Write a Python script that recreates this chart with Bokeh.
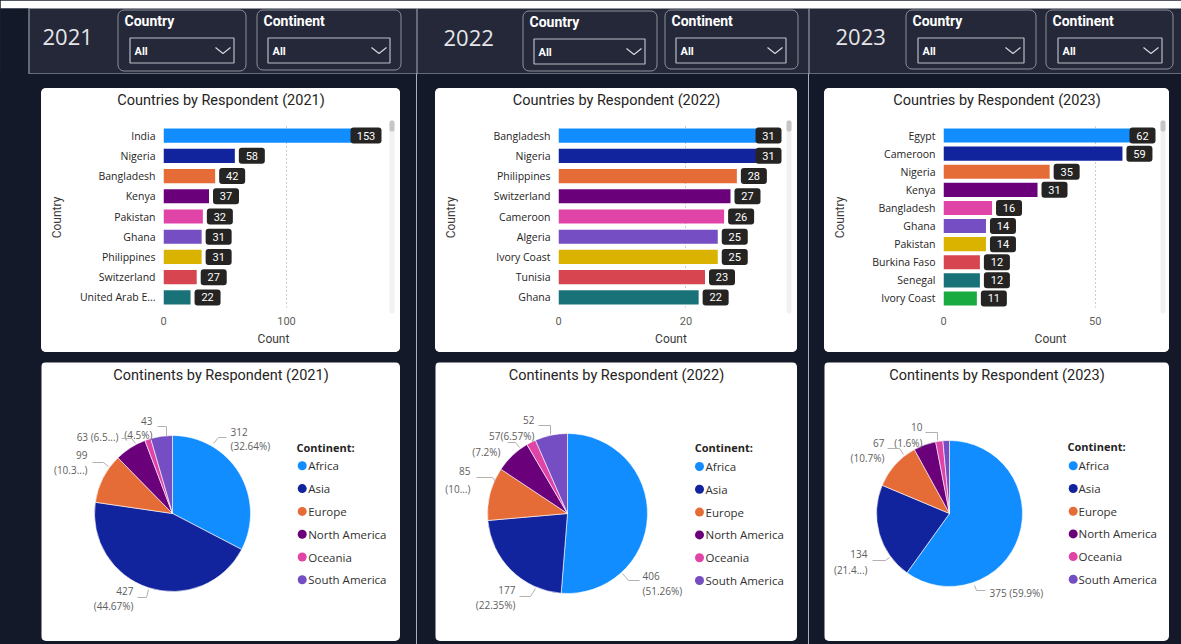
import math
from bokeh.plotting import figure
from bokeh.layouts import row, column
from bokeh.models import (Range1d, FactorRange, FixedTicker, ColumnDataSource,
                          Spacer, Rect, Quad, Plot)
from bokeh.core.properties import value
from bokeh.embed import file_html
from bokeh.resources import INLINE

# ---------------- data ----------------
years = ["2021", "2022", "2023"]

countries_2021 = ["India", "Nigeria", "Bangladesh", "Kenya", "Pakistan", "Ghana",
                  "Philippines", "Switzerland", "United Arab Emirates"]
counts_2021 = [153, 58, 42, 37, 32, 31, 31, 27, 22]

countries_2022 = ["Bangladesh", "Nigeria", "Philippines", "Switzerland", "Cameroon",
                  "Algeria", "Ivory Coast", "Tunisia", "Ghana"]
counts_2022 = [31, 31, 28, 27, 26, 25, 25, 23, 22]

countries_2023 = ["Egypt", "Cameroon", "Nigeria", "Kenya", "Bangladesh", "Ghana",
                  "Pakistan", "Burkina Faso", "Senegal", "Ivory Coast"]
counts_2023 = [62, 59, 35, 31, 16, 14, 14, 12, 12, 11]

x_ticks_2021 = [0, 100]
x_ticks_2022 = [0, 20]
x_ticks_2023 = [0, 50]

continents = ["Africa", "Asia", "Europe", "North America", "Oceania", "South America"]
continent_counts_2021 = [312, 427, 99, 63, 12, 43]
continent_counts_2022 = [406, 177, 85, 57, 15, 52]
continent_counts_2023 = [375, 134, 67, 31, 10, 9]

slicer_titles = ["Country", "Continent"]
slicer_value = "All"

BAR_DATA = {"2021": (countries_2021, counts_2021, x_ticks_2021),
            "2022": (countries_2022, counts_2022, x_ticks_2022),
            "2023": (countries_2023, counts_2023, x_ticks_2023)}
PIE_DATA = {"2021": continent_counts_2021, "2022": continent_counts_2022,
            "2023": continent_counts_2023}

# ---------------- styles / layout ----------------
PALETTE = ["#118DFF", "#12239E", "#E66C37", "#6B007B", "#E044A7", "#744EC2",
           "#D9B300", "#D64550", "#197278", "#1AAB40"]
BG = "#131929"
HEADER_BG = "#242839"
SEP = "#a9aeb8"
SLICER_LINE = "#8c919c"
DROP_LINE = "#b9bdc6"
TXT_DARK = "#252423"
TXT_GRAY = "#605E5C"
LABEL_BG = "#252423"
TITLE_FONT = "Roboto"
BODY_FONT = "Open Sans"

W_TOTAL, H_TOTAL = 1181, 644
HEADER_H = 74
BAR_BOTTOM = 352


def has_prop(cls, name):
    try:
        return name in cls.properties()
    except Exception:
        return False


QUAD_R = has_prop(Quad, "border_radius")
RECT_R = has_prop(Rect, "border_radius")
FA = dict(frame_align=False) if has_prop(Plot, "frame_align") else {}

COLS = {"2021": (0, 416), "2022": (417, 391), "2023": (809, 372)}
SEPS = [416, 808]

HDR = {
    "2021": dict(year_x=42, year_y=36,
                 boxes=[(117, 245, 9, 70), (256, 400, 9, 69)],
                 drops=[(129, 233, 37, 62), (267, 389, 37, 62)]),
    "2022": dict(year_x=443, year_y=37,
                 boxes=[(522, 656, 10, 70), (664, 797, 9, 68)],
                 drops=[(533, 644, 38, 63), (675, 785, 37, 62)]),
    "2023": dict(year_x=835, year_y=36,
                 boxes=[(905, 1035, 9, 68), (1045, 1172, 9, 68)],
                 drops=[(917, 1023, 37, 62), (1057, 1161, 37, 62)]),
}

BAR_CFG = {
    "2021": dict(card=(41, 88, 359, 264), frame=(163, 383, 125, 307), ppu=1.23,
                 sb=(389, 394), bar_h=0.7),
    "2022": dict(card=(435, 88, 362, 264), frame=(558, 783, 125, 307), ppu=6.37,
                 sb=(786, 791), bar_h=0.7),
    "2023": dict(card=(824, 88, 345, 264), frame=(943, 1157, 126, 307), ppu=3.033,
                 sb=(1160, 1165), bar_h=0.78),
}
COUNTRY_W = 30

PIE_CFG = {
    "2021": dict(card=(41, 362, 359, 279), center=(172, 513), r=78,
                 legend=(296, 447, 301.7, 307.7, 465.3, 22.8)),
    "2022": dict(card=(435, 362, 362, 279), center=(567, 513), r=80,
                 legend=(694.3, 446.7, 699, 705, 466, 22.8)),
    "2023": dict(card=(824, 362, 345, 279), center=(949, 513), r=73,
                 legend=(1067, 446, 1072.7, 1078, 465.3, 22.7)),
}

PIE_LABELS = {
    "2021": {
        "South America": dict(align="right", x=-20, ys=[-93, -79],
                              lead=[(-15, -87), (-6, -87), (-6, -77)]),
        "North America": dict(align="right", x=-54, ys=[-77], oneline=True, trunc=3,
                              lead=[(-51, -75), (-41, -75), (-37, -70)]),
        "Europe": dict(align="right", x=-85, ys=[-59, -44], trunc=4,
                       lead=[(-80, -51), (-69, -51), (-64, -47)]),
        "Africa": dict(align="left", x=58, ys=[-82, -68],
                       lead=[(41, -70), (46, -76), (54, -76)]),
        "Asia": dict(align="right", x=-39, ys=[77, 92],
                     lead=[(-35, 84), (-26, 84), (-24, 76)]),
    },
    "2022": {
        "South America": dict(align="right", x=-33, ys=[-94, -78],
                              lead=[(-29, -88), (-17, -88), (-17, -79)]),
        "North America": dict(align="right", x=-67, ys=[-78, -62],
                              lead=[(-60, -71), (-52, -71), (-48, -66)]),
        "Europe": dict(align="right", x=-97, ys=[-43, -25], trunc=2,
                       lead=[(-91, -36), (-75, -36), (-72, -32)]),
        "Africa": dict(align="left", x=75, ys=[62, 77],
                       lead=[(55, 60), (61, 67), (72, 67)]),
        "Asia": dict(align="right", x=-52, ys=[76, 91],
                     lead=[(-48, 83), (-37, 83), (-32, 75)]),
    },
    "2023": {
        "Oceania": dict(align="right", x=-27, ys=[-87, -71],
                        lead=[(-24, -81), (-12, -81), (-12, -73)]),
        "Europe": dict(align="right", x=-65, ys=[-71, -56],
                       lead=[(-62, -65), (-50, -65), (-46, -59)]),
        "Asia": dict(align="right", x=-82, ys=[40, 56], trunc=4,
                     lead=[(-77, 47), (-64, 47), (-60, 44)]),
        "Africa": dict(align="left", x=40, ys=[79], oneline=True,
                       lead=[(25, 72), (27, 77), (36, 77)]),
    },
}


def truncate_name(s, n=14):
    return s if len(s) <= n else s[:n - 1] + "..."


def pct_text(v, total, trunc=None):
    s = f"{100.0 * v / total:.2f}".rstrip("0").rstrip(".")
    if trunc:
        return f"({s[:trunc]}...)"
    return f"({s}%)"


def blank_fig(w, h, bg, flip=False, **kw):
    yr = Range1d(h, 0) if flip else Range1d(0, h)
    p = figure(width=w, height=h, x_range=Range1d(0, w), y_range=yr,
               x_axis_type=None, y_axis_type=None, toolbar_location=None,
               output_backend="svg", min_border=0, min_border_left=0,
               min_border_right=0, min_border_top=0, min_border_bottom=0, **FA, **kw)
    p.outline_line_color = None
    p.background_fill_color = bg
    p.border_fill_color = bg
    return p


def make_header():
    w, h = W_TOTAL, HEADER_H
    p = blank_fig(w, h, HEADER_BG, flip=True)
    p.quad(left=[0], right=[w], top=[0], bottom=[8], fill_color="white", line_color=None)
    p.quad(left=[0], right=[28], top=[8], bottom=[h], fill_color=BG, line_color=None)
    p.segment(x0=[28.5], y0=[8], x1=[28.5], y1=[h - 1], line_color=SEP, line_width=1)
    p.segment(x0=[28], y0=[h - 0.5], x1=[w], y1=[h - 0.5], line_color=SEP, line_width=1)
    for sx in SEPS:
        p.segment(x0=[sx + 0.5], y0=[8], x1=[sx + 0.5], y1=[h], line_color=SEP, line_width=1)

    rk = dict(border_radius=6) if QUAD_R else {}
    for year in years:
        cfg = HDR[year]
        p.text(x=[cfg["year_x"]], y=[cfg["year_y"]], text=[year], text_font=value(BODY_FONT),
               text_font_size="22px", text_color="#e6e6e8", text_baseline="middle")
        for (l, r, t, b), (dl, dr, dt, db), title in zip(cfg["boxes"], cfg["drops"], slicer_titles):
            p.quad(left=[l + 0.5], right=[r + 0.5], top=[t + 0.5], bottom=[b + 0.5],
                   fill_color=HEADER_BG, line_color=SLICER_LINE, line_width=1, **rk)
            p.text(x=[l + 7], y=[t + 11.5], text=[title], text_font=value(TITLE_FONT),
                   text_font_style="bold", text_font_size="14px", text_color="#ffffff",
                   text_baseline="middle")
            p.quad(left=[dl + 0.5], right=[dr + 0.5], top=[dt + 0.5], bottom=[db + 0.5],
                   fill_color=HEADER_BG, line_color=DROP_LINE, line_width=1.2)
            mid = (dt + db) / 2.0
            p.text(x=[dl + 5], y=[mid + 1.5], text=[slicer_value], text_font=value(TITLE_FONT),
                   text_font_style="bold", text_font_size="11px", text_color="#ffffff",
                   text_baseline="middle")
            p.line(x=[dr - 18, dr - 10.5, dr - 3], y=[mid - 2.5, mid + 3.5, mid - 2.5],
                   line_color="#d6d8de", line_width=1.2)
    return p


def make_bar_card(year):
    names, counts, ticks = BAR_DATA[year]
    shown = [truncate_name(n) for n in names]
    cfg = BAR_CFG[year]
    col_x0, col_w = COLS[year]
    cx, cy, cw, ch = cfg["card"]
    fl, fr, ft, fb = cfg["frame"]
    ppu = cfg["ppu"]
    fw = fr - fl
    x_end = fw / ppu
    body_h = cy + ch - ft

    title_fig = blank_fig(fr - cx, ft - cy, "white", flip=True)
    title_fig.text(x=[cw / 2.0], y=[12], text=[f"Countries by Respondent ({year})"],
                   text_align="center", text_baseline="middle", text_font=value(TITLE_FONT),
                   text_font_size="14.5px", text_color=TXT_DARK)

    country_fig = blank_fig(COUNTRY_W, body_h, "white")
    country_fig.text(x=[15], y=[body_h - (217 - ft)], text=["Country"], angle=math.pi / 2,
                     text_align="center", text_baseline="middle", text_font=value(TITLE_FONT),
                     text_font_size="12px", text_color="#3b3a39")

    p = figure(width=fr - (cx + COUNTRY_W), height=body_h, x_range=Range1d(0, x_end),
               y_range=FactorRange(factors=shown[::-1]),
               toolbar_location=None, output_backend="svg",
               min_border_left=fl - (cx + COUNTRY_W), min_border_right=0,
               min_border_top=0, min_border_bottom=cy + ch - fb, **FA)
    p.outline_line_color = None
    p.background_fill_color = "white"
    p.border_fill_color = "white"

    ticker = FixedTicker(ticks=ticks)
    p.xaxis.ticker = ticker
    p.xgrid.ticker = ticker
    p.xaxis.axis_line_color = None
    p.xaxis.major_tick_line_color = None
    p.xaxis.minor_tick_line_color = None
    p.xaxis.major_tick_out = 0
    p.xaxis.major_label_standoff = 9
    p.xaxis.major_label_text_font = TITLE_FONT
    p.xaxis.major_label_text_font_size = "11px"
    p.xaxis.major_label_text_color = TXT_GRAY
    p.xaxis.axis_label = "Count"
    p.xaxis.axis_label_standoff = 4
    p.xaxis.axis_label_text_font = TITLE_FONT
    p.xaxis.axis_label_text_font_style = "normal"
    p.xaxis.axis_label_text_font_size = "12px"
    p.xaxis.axis_label_text_color = "#3b3a39"

    p.yaxis.axis_line_color = None
    p.yaxis.major_tick_line_color = None
    p.yaxis.minor_tick_line_color = None
    p.yaxis.major_tick_out = 0
    p.yaxis.major_label_standoff = 8
    p.yaxis.major_label_text_font = BODY_FONT
    p.yaxis.major_label_text_font_size = "10.5px"
    p.yaxis.major_label_text_color = TXT_DARK

    p.ygrid.visible = False
    p.xgrid.grid_line_color = "#9a9896"
    p.xgrid.grid_line_dash = "1 3"
    p.xgrid.grid_line_width = 1

    limit = fw - 2
    lx, lw = [], []
    for c in counts:
        w = 31 if len(str(c)) >= 3 else 26
        left = min(c * ppu + 4, limit - w)
        lx.append((left + w / 2.0) / ppu)
        lw.append(w)
    src = ColumnDataSource(dict(name=shown, count=counts, color=PALETTE[:len(names)],
                                lx=lx, lw=lw, label=[str(c) for c in counts]))
    p.hbar(y="name", left=0, right="count", height=cfg["bar_h"], fill_color="color",
           line_color=None, source=src)
    rk = dict(border_radius=3) if RECT_R else {}
    p.rect(x="lx", y="name", width="lw", height=16, width_units="screen",
           height_units="screen", fill_color=LABEL_BG, line_color=None, source=src, **rk)
    p.text(x="lx", y="name", text="label", text_align="center", text_baseline="middle",
           text_color="white", text_font=value(TITLE_FONT), text_font_size="11px",
           source=src)

    sw = cx + cw - fr
    scroll_fig = blank_fig(sw, ch, "white", flip=True)
    s0, s1 = cfg["sb"]
    qk = dict(border_radius=2) if QUAD_R else {}
    scroll_fig.quad(left=[s0 - fr], right=[s1 - fr], top=[120 - cy], bottom=[313 - cy],
                    fill_color="#f1f1f1", line_color=None, **qk)
    scroll_fig.quad(left=[s0 - fr], right=[s1 - fr], top=[120 - cy], bottom=[131 - cy],
                    fill_color="#c6c6c6", line_color=None, **qk)

    left_part = column(title_fig, row(country_fig, p, spacing=0), spacing=0)
    card = row(left_part, scroll_fig, spacing=0,
               margin=(cy - HEADER_H, col_w - (cx - col_x0) - cw, 0, cx - col_x0),
               styles={"background-color": "white", "border-radius": "5px",
                       "overflow": "hidden"})
    return card


def make_pie(year):
    vals = PIE_DATA[year]
    cfg = PIE_CFG[year]
    col_x0, col_w = COLS[year]
    cx, cy, cw, ch = cfg["card"]
    p = blank_fig(cw, ch, "white",
                  margin=(cy - BAR_BOTTOM, col_w - (cx - col_x0) - cw,
                          H_TOTAL - (cy + ch), cx - col_x0),
                  styles={"border-radius": "5px", "overflow": "hidden"})

    def X(v):
        return v - cx

    def Y(v):
        return cy + ch - v

    pcx, pcy = cfg["center"]
    total = float(sum(vals))
    cum = [0.0]
    for v in vals:
        cum.append(cum[-1] + v)
    start = [math.pi / 2 - 2 * math.pi * cum[i] / total for i in range(len(vals))]
    end = [math.pi / 2 - 2 * math.pi * cum[i + 1] / total for i in range(len(vals))]
    src = ColumnDataSource(dict(continent=continents, count=vals, start=start, end=end,
                                color=PALETTE[:len(vals)]))
    p.wedge(x=X(pcx), y=Y(pcy), radius=cfg["r"], radius_units="screen",
            start_angle="start", end_angle="end", direction="clock",
            fill_color="color", line_color="white", line_width=0.6, source=src)

    p.text(x=[cw / 2.0], y=[ch - 13], text=[f"Continents by Respondent ({year})"],
           text_align="center", text_baseline="middle", text_font=value(TITLE_FONT),
           text_font_size="14.5px", text_color=TXT_DARK)

    for name, spec in PIE_LABELS[year].items():
        i = continents.index(name)
        v = vals[i]
        ptxt = pct_text(v, total, spec.get("trunc"))
        lines = [f"{v} {ptxt}"] if spec.get("oneline") else [f"{v}", ptxt]
        for line, dy in zip(lines, spec["ys"]):
            p.text(x=[X(pcx + spec["x"])], y=[Y(pcy + dy)], text=[line],
                   text_align=spec["align"], text_baseline="middle",
                   text_font=value(BODY_FONT), text_font_size="10px", text_color=TXT_GRAY)
        p.line(x=[X(pcx + a) for a, b in spec["lead"]],
               y=[Y(pcy + b) for a, b in spec["lead"]],
               line_color="#b3b0ad", line_width=1)

    tx, ty, dx, txx, y0, pitch = cfg["legend"]
    p.text(x=[X(tx)], y=[Y(ty)], text=["Continent:"], text_baseline="middle",
           text_font=value(BODY_FONT), text_font_style="bold", text_font_size="11px",
           text_color=TXT_DARK)
    ly = [Y(y0 + k * pitch) for k in range(len(continents))]
    p.scatter(x=[X(dx)] * len(continents), y=ly, size=9, marker="circle",
              fill_color=PALETTE[:len(continents)], line_color=None)
    p.text(x=[X(txx)] * len(continents), y=ly, text=continents, text_baseline="middle",
           text_font=value(BODY_FONT), text_font_size="11.5px", text_color="#323130")
    return p


body = []
for k, yr in enumerate(years):
    body.append(column(make_bar_card(yr), make_pie(yr), spacing=0))
    if k < len(years) - 1:
        body.append(Spacer(width=1, height=H_TOTAL - HEADER_H,
                           styles={"background-color": SEP}))

body_row = row(*body, spacing=0, styles={"background-color": BG})
root = column(make_header(), body_row, spacing=0, styles={"background-color": BG})

open("out.html", "w").write(file_html(root, INLINE))
